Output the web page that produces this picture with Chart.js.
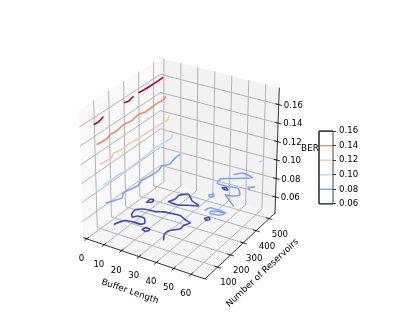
<!DOCTYPE html>
<html>
<head>
<meta charset="utf-8">
<script src="https://cdn.jsdelivr.net/npm/chart.js@4"></script>
<style>
  body { margin: 0; background: #fff; }
  #wrap { position: relative; width: 407px; height: 332px; overflow: hidden; }
  #surface { position: absolute; left: 0; top: 0; }
  #bar { position: absolute; left: 313.3px; top: 123px; }
</style>
</head>
<body>
<div id="wrap">
  <canvas id="surface" width="407" height="332"></canvas>
  <canvas id="bar" width="50" height="89"></canvas>
</div>
<script>
var bufferTicks = [0, 10, 20, 30, 40, 50, 60];
var reservoirTicks = [100, 200, 300, 400, 500];
var berTicks = [0.06, 0.08, 0.10, 0.12, 0.14, 0.16];

var levels = [0.06, 0.08, 0.10, 0.12, 0.14, 0.16];
var levelColors = ["#3b4cc0", "#7ea1f9", "#c1d4f4", "#f6c7ae", "#f2896b", "#b40426"];

// contour pieces as [buffer length, number of reservoirs]
var ber016 = [
  [[1.95, 53], [2.3, 78], [1.15, 122]],
  [[0.9, 270], [1.8, 288], [0.8, 329]],
  [[0.6, 371], [1.1, 409], [1.2, 443], [1.2, 476], [1.1, 526]]
];
var ber014 = [
  [[3.6, 49], [4.0, 77], [4.05, 111], [2.95, 148], [3.5, 175], [2.6, 243], [3.4, 290], [2.5, 346],
   [3.9, 376], [3.6, 425], [3.4, 473], [3.95, 500], [2.7, 526]]
];
var ber012 = [
  [[5.2, 48], [5.7, 77], [6.05, 112], [4.2, 151], [5.1, 188], [5.0, 247], [5.55, 297], [5.8, 351],
   [5.95, 408], [6.4, 459], [6.8, 494], [5.0, 523]]
];
var ber010 = [
  [[7.2, 43], [7.5, 85], [7.6, 142], [8.5, 190], [8.1, 252], [8.0, 323], [7.3, 401], [7.75, 453],
   [8.4, 504], [6.9, 524]],
  [[61, 505], [62, 515]]
];
var ber008 = [
  [[7.7, 51], [11.2, 119], [9.1, 155], [10.2, 200], [11, 237], [9.6, 280], [10.65, 324], [11.2, 375],
   [9.9, 416], [12.2, 445], [11, 494], [11.1, 529]],
  [[46.7, 497], [49.8, 522], [56.4, 509], [50.1, 476], [43, 443], [43.7, 407], [50.6, 405], [55.8, 412],
   [59.7, 372], [55.8, 348], [53.4, 347], [62.5, 290]],
  [[62.5, 452], [59.7, 438], [61.6, 425]],
  [[46.2, 312], [47.6, 329], [49, 315], [47.6, 302], [46.2, 312]],
  [[52.2, 208], [53.2, 234], [57.3, 235], [62.4, 231], [57.3, 222], [55.2, 212], [55.8, 199], [60.7, 203], [62.2, 223]]
];
var ber006 = [
  [[12.1, 53], [13.1, 80], [14.8, 101], [18.7, 107], [22.5, 108], [23.8, 123], [21.1, 155], [16.9, 155],
   [15.6, 137], [13.6, 158], [12.8, 191], [16.6, 216], [22.2, 221], [25.9, 237], [29.3, 242], [34.8, 246],
   [39.1, 229], [42.9, 219], [41.3, 190], [41.6, 162], [37.7, 125], [37.5, 94], [40, 57]],
  [[22.4, 314], [23.8, 345], [23.4, 374], [27, 403], [32.1, 366], [37.7, 346], [32.9, 329], [27.7, 310], [22.4, 314]],
  [[13.5, 265], [13.4, 293], [15.1, 296], [15.7, 278], [13.5, 265]],
  [[26, 78], [26.8, 98], [29.3, 92], [28.6, 72], [26, 78]],
  [[38.5, 510], [40.4, 517], [42.3, 505], [40.4, 502], [38.5, 510]],
  [[46.7, 277], [48.1, 292], [49.6, 279], [48.1, 267], [46.7, 277]]
];
var contours = [ber006, ber008, ber010, ber012, ber014, ber016];

var xLim = [-2, 68], yLim = [2, 546], zLim = [0.0427, 0.178];

// where the eight corners of the axes box land on the plot plane
var boxFloor = { xy: [83.3, 237.7], Xy: [205, 279], xY: [160.5, 181], XY: [275, 213] };
var boxTop = { xy: [79, 110], Xy: [206.7, 148], xY: [160.5, 58], XY: [279.3, 88] };

function project(x, y, z) {
  var a = (x - xLim[0]) / (xLim[1] - xLim[0]);
  var b = (y - yLim[0]) / (yLim[1] - yLim[0]);
  var c = (z - zLim[0]) / (zLim[1] - zLim[0]);
  function mix(k) {
    var lo = (1 - a) * (1 - b) * boxFloor.xy[k] + a * (1 - b) * boxFloor.Xy[k] + (1 - a) * b * boxFloor.xY[k] + a * b * boxFloor.XY[k];
    var hi = (1 - a) * (1 - b) * boxTop.xy[k] + a * (1 - b) * boxTop.Xy[k] + (1 - a) * b * boxTop.xY[k] + a * b * boxTop.XY[k];
    return (1 - c) * lo + c * hi;
  }
  return { x: mix(0), y: mix(1) };
}

function path3(points) {
  return points.map(function (p) { return project(p[0], p[1], p[2]); });
}

function lineSet(points, color, width, tension) {
  return { data: path3(points), showLine: true, pointRadius: 0, borderColor: color, borderWidth: width,
    borderJoinStyle: "round", borderCapStyle: "round", fill: false, tension: tension || 0 };
}

function paneSet(points, color) {
  return { data: path3(points), showLine: true, pointRadius: 0, borderWidth: 0, borderColor: color,
    backgroundColor: color, fill: "shape", tension: 0 };
}

var x0 = xLim[0], x1 = xLim[1], y0 = yLim[0], y1 = yLim[1], z0 = zLim[0], z1 = zLim[1];
var gridColor = "#b4b4b4";
var sets = [];

sets.push(paneSet([[x0, y0, z0], [x0, y1, z0], [x0, y1, z1], [x0, y0, z1], [x0, y0, z0]], "#f9f9f9"));
sets.push(paneSet([[x0, y1, z0], [x1, y1, z0], [x1, y1, z1], [x0, y1, z1], [x0, y1, z0]], "#f2f2f2"));
sets.push(paneSet([[x0, y0, z0], [x1, y0, z0], [x1, y1, z0], [x0, y1, z0], [x0, y0, z0]], "#f5f5f5"));

bufferTicks.forEach(function (t) {
  sets.push(lineSet([[t, y0, z0], [t, y1, z0], [t, y1, z1]], gridColor, 1));
  sets.push(lineSet([[t, y0 - 14, z0], [t, y0 + 14, z0]], "#000", 0.8));
});
reservoirTicks.forEach(function (t) {
  sets.push(lineSet([[x1, t, z0], [x0, t, z0], [x0, t, z1]], gridColor, 1));
  sets.push(lineSet([[x1 - 1.8, t, z0], [x1 + 1.8, t, z0]], "#000", 0.8));
});
berTicks.forEach(function (t) {
  sets.push(lineSet([[x0, y0, t], [x0, y1, t], [x1, y1, t]], gridColor, 1));
  sets.push(lineSet([[x1 - 1.8, y1, t], [x1 + 1.8, y1, t]], "#000", 0.8));
});

sets.push(lineSet([[x0, y0, z0], [x1, y0, z0]], "#000", 0.8));
sets.push(lineSet([[x1, y0, z0], [x1, y1, z0]], "#000", 0.8));
sets.push(lineSet([[x1, y1, z0], [x1, y1, z1]], "#000", 0.8));

contours.forEach(function (pieces, i) {
  pieces.forEach(function (piece) {
    var pts = piece.map(function (p) { return [p[0], p[1], levels[i]]; });
    sets.push(lineSet(pts, levelColors[i], 1.6, 0.2));
  });
});

// first dataset is painted last, so hand them over back to front
sets.reverse();

var tickFont = '8.6px "DejaVu Sans"';
var titleFont = '8.8px "DejaVu Sans"';

var axisText = {
  id: "axisText",
  afterDraw: function (chart) {
    var ctx = chart.ctx, sx = chart.scales.x, sy = chart.scales.y;
    function put(p, dx, dy, text, rot, font) {
      ctx.save();
      ctx.translate(sx.getPixelForValue(p.x) + dx, sy.getPixelForValue(p.y) + dy);
      ctx.rotate((rot || 0) * Math.PI / 180);
      ctx.font = font || tickFont;
      ctx.fillStyle = "#000";
      ctx.textAlign = "center";
      ctx.textBaseline = "middle";
      ctx.fillText(text, 0, 0);
      ctx.restore();
    }
    bufferTicks.forEach(function (t) { put(project(t, y0, z0), -5.3, 19.6, String(t)); });
    reservoirTicks.forEach(function (t) { put(project(x1, t, z0), 10.8, 15.8, String(t)); });
    berTicks.forEach(function (t) { put(project(x1, y1, t), 14.7, 0.8, t.toFixed(2)); });
    put(project((x0 + x1) / 2, y0, z0), -14.2, 33.3, "Buffer Length", 19, titleFont);
    put(project(x1, (y0 + y1) / 2, z0), 22.5, 27, "Number of Reservoirs", -43, titleFont);
    put(project(x1, y1, (z0 + z1) / 2), 32.8, -2.2, "BER", 0, titleFont);
  }
};

new Chart(document.getElementById("surface"), {
  type: "scatter",
  data: { datasets: sets },
  plugins: [axisText],
  options: {
    responsive: false,
    animation: false,
    clip: false,
    layout: { padding: 0 },
    plugins: { legend: { display: false }, tooltip: { enabled: false } },
    scales: {
      x: { type: "linear", display: false, min: 0, max: 407 },
      y: { type: "linear", display: false, reverse: true, min: 0, max: 332 }
    }
  }
});

var barColors = levelColors.slice();
barColors[5] = "#5a0a1c";

var barSets = levels.map(function (l, i) {
  return { data: [{ x: 0, y: l }, { x: 1, y: l }], showLine: true, pointRadius: 0, borderColor: barColors[i], borderWidth: 1.4 };
});
barSets.unshift({
  data: [{ x: 0, y: 0.06 }, { x: 1, y: 0.06 }, { x: 1, y: 0.16 }, { x: 0, y: 0.16 }, { x: 0, y: 0.06 }],
  showLine: true, pointRadius: 0, borderColor: "#444", borderWidth: 1
});

new Chart(document.getElementById("bar"), {
  type: "scatter",
  data: { datasets: barSets },
  options: {
    responsive: false,
    animation: false,
    clip: false,
    layout: { padding: { left: 6, top: 6, bottom: 6, right: 0 } },
    plugins: { legend: { display: false }, tooltip: { enabled: false } },
    scales: {
      x: { type: "linear", display: false, min: 0, max: 1 },
      y: {
        type: "linear", position: "right", min: 0.06, max: 0.16,
        afterBuildTicks: function (s) { s.ticks = levels.map(function (l) { return { value: l }; }); },
        afterFit: function (s) { s.width = 30; },
        border: { display: false },
        grid: { drawOnChartArea: false, drawTicks: true, tickLength: 3, color: "#000", lineWidth: 0.8 },
        ticks: {
          padding: 3, color: "#000", font: { family: "DejaVu Sans", size: 8.6 },
          callback: function (v) { return v.toFixed(2); }
        }
      }
    }
  }
});
</script>
</body>
</html>
